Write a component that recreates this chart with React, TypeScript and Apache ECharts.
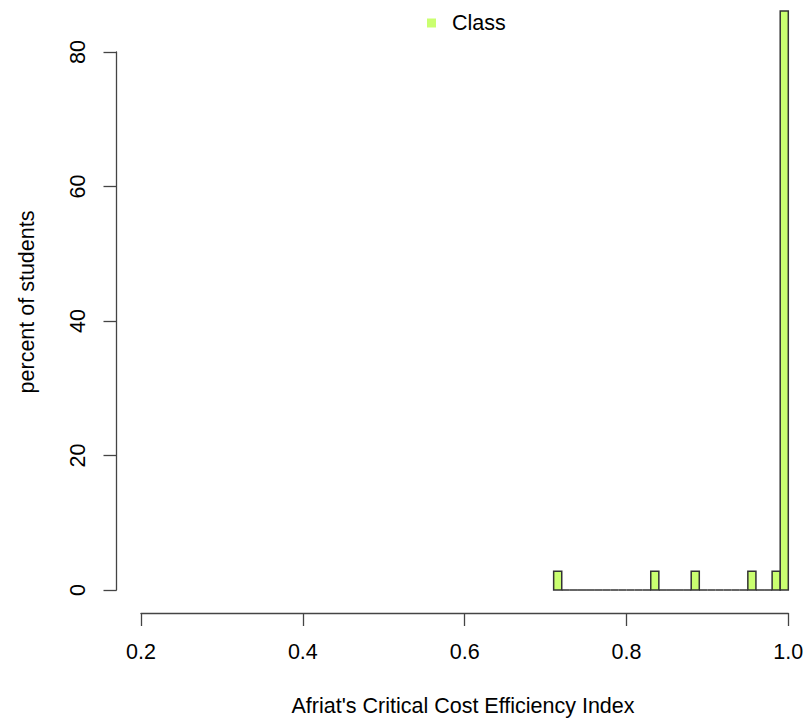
import React, { useEffect, useRef } from "react";
import * as echarts from "echarts";

// Histogram bin edges (width 0.01) covering the observed index values
const binEdges = [
  0.71, 0.72, 0.73, 0.74, 0.75, 0.76, 0.77, 0.78, 0.79, 0.8,
  0.81, 0.82, 0.83, 0.84, 0.85, 0.86, 0.87, 0.88, 0.89, 0.9,
  0.91, 0.92, 0.93, 0.94, 0.95, 0.96, 0.97, 0.98, 0.99, 1.0,
];

// Percent of students falling into each bin
const binPercents = [
  2.78, 0, 0, 0, 0, 0, 0, 0, 0, 0,
  0, 0, 2.78, 0, 0, 0, 0, 2.78, 0, 0,
  0, 0, 0, 0, 2.78, 0, 0, 2.78, 86.11,
];

const xTicks = [0.2, 0.4, 0.6, 0.8, 1.0];
const yTicks = [0, 20, 40, 60, 80];

const seriesName = "Class";
const xTitle = "Afriat's Critical Cost Efficiency Index";
const yTitle = "percent of students";

const FILL = "#CAFF70";
const EDGE = "#333333";
const AXIS = "#444444";
const FONT = "'Liberation Sans', Arial, sans-serif";
const FS = 21.5;

export default function App() {
  const ref = useRef<HTMLDivElement>(null);

  useEffect(() => {
    if (!ref.current) return;
    const chart = echarts.init(ref.current, undefined, { renderer: "svg" });

    const data = binPercents.map((p, i) => [binEdges[i], binEdges[i + 1], p]);

    chart.setOption({
      animation: false,
      backgroundColor: "#ffffff",
      grid: { left: 141, right: 21.7, top: 52, bottom: 136 },
      legend: {
        left: 427,
        top: 12,
        padding: 0,
        itemWidth: 9,
        itemHeight: 9,
        data: [{ name: seriesName, icon: "rect", itemStyle: { color: FILL, borderWidth: 0 } }],
        textStyle: { fontFamily: FONT, fontSize: FS, color: "#000", padding: [0, 0, 0, 11] },
      },
      xAxis: {
        type: "value",
        min: xTicks[0],
        max: xTicks[xTicks.length - 1],
        interval: 0.2,
        offset: 23,
        axisLine: { show: true, onZero: false, lineStyle: { color: AXIS, width: 1.3 } },
        axisTick: { show: true, length: 13, lineStyle: { color: AXIS, width: 1.3 } },
        splitLine: { show: false },
        axisLabel: {
          margin: 28,
          fontFamily: FONT,
          fontSize: FS,
          color: "#000",
          formatter: (v: number) => v.toFixed(1),
        },
      },
      yAxis: {
        type: "value",
        min: yTicks[0],
        max: yTicks[yTicks.length - 1],
        interval: 20,
        offset: 24.5,
        axisLine: { show: true, onZero: false, lineStyle: { color: AXIS, width: 1.3 } },
        axisTick: { show: true, length: 13, lineStyle: { color: AXIS, width: 1.3 } },
        splitLine: { show: false },
        axisLabel: {
          margin: 28,
          rotate: 90,
          fontFamily: FONT,
          fontSize: FS,
          color: "#000",
        },
      },
      graphic: [
        {
          type: "text",
          x: 463,
          y: 706,
          style: {
            text: xTitle,
            fontFamily: FONT,
            fontSize: FS,
            fill: "#000",
            align: "center",
            verticalAlign: "middle",
          },
        },
        {
          type: "text",
          x: 27,
          y: 302,
          rotation: Math.PI / 2,
          style: {
            text: yTitle,
            fontFamily: FONT,
            fontSize: FS,
            fill: "#000",
            align: "center",
            verticalAlign: "middle",
          },
        },
      ],
      series: [
        {
          name: seriesName,
          type: "custom",
          clip: false,
          itemStyle: { color: FILL },
          encode: { x: [0, 1], y: 2 },
          data,
          renderItem: (params: any, api: any) => {
            const x0 = api.value(0);
            const x1 = api.value(1);
            const v = api.value(2);
            const base0 = api.coord([x0, 0]);
            const top1 = api.coord([x1, v]);
            if (v === 0) {
              return {
                type: "line",
                shape: { x1: base0[0], y1: base0[1], x2: top1[0], y2: base0[1] },
                style: { stroke: EDGE, lineWidth: 1.5 },
              };
            }
            return {
              type: "rect",
              shape: {
                x: base0[0],
                y: top1[1],
                width: top1[0] - base0[0],
                height: base0[1] - top1[1],
              },
              style: { fill: FILL, stroke: EDGE, lineWidth: 1.5 },
            };
          },
        },
      ],
    });

    return () => chart.dispose();
  }, []);

  return (
    <div
      ref={ref}
      style={{ position: "absolute", left: 0, top: 0, width: 810, height: 726 }}
    />
  );
}
